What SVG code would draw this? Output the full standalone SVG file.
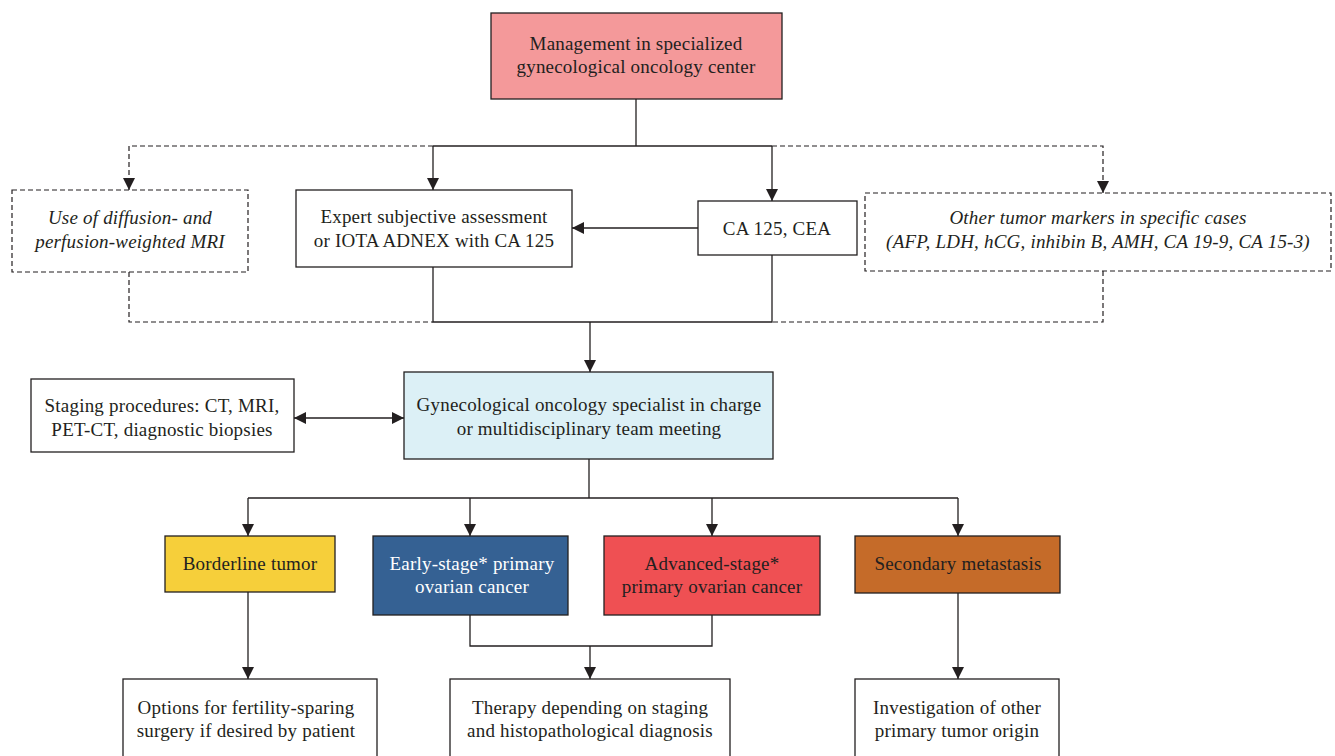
<svg xmlns="http://www.w3.org/2000/svg" width="1335" height="756" viewBox="0 0 1335 756">
<defs>
<marker id="ah" viewBox="0 0 10 10" refX="10" refY="5" markerWidth="12" markerHeight="12" markerUnits="userSpaceOnUse" orient="auto-start-reverse">
<path d="M0,0 L10,5 L0,10 z" fill="#231f20"/>
</marker>
<style>
.box{stroke:#231f20;stroke-width:1.3;}
.dbox{fill:#fff;stroke:#231f20;stroke-width:1.2;stroke-dasharray:5,3;}
.ln{fill:none;stroke:#231f20;stroke-width:1.3;}
.dl{fill:none;stroke:#231f20;stroke-width:1.2;stroke-dasharray:5,3;}
text{font-family:"Liberation Serif","Times New Roman",serif;font-size:19px;letter-spacing:0.2px;fill:#231f20;text-anchor:middle;}
.it{font-style:italic;}
.wt{fill:#ffffff;}
</style>
</defs>
<rect width="1335" height="756" fill="#ffffff"/>
<g id="connectors">
<line class="ln" x1="636" y1="99" x2="636" y2="146"/>
<line class="ln" x1="433" y1="146" x2="772" y2="146"/>
<line class="ln" x1="433" y1="146" x2="433" y2="190" marker-end="url(#ah)"/>
<line class="ln" x1="772" y1="146" x2="772" y2="201" marker-end="url(#ah)"/>
<polyline class="dl" points="433,146 129,146 129,190" marker-end="url(#ah)"/>
<polyline class="dl" points="772,146 1103,146 1103,193" marker-end="url(#ah)"/>
<line class="ln" x1="698" y1="228" x2="572" y2="228" marker-end="url(#ah)"/>
<polyline class="ln" points="433,267 433,322 772,322 772,255"/>
<polyline class="dl" points="129,272 129,322 433,322"/>
<polyline class="dl" points="1103,271 1103,322 772,322"/>
<line class="ln" x1="590" y1="322" x2="590" y2="372" marker-end="url(#ah)"/>
<line class="ln" x1="294" y1="418" x2="404" y2="418" marker-start="url(#ah)" marker-end="url(#ah)"/>
<line class="ln" x1="589" y1="459" x2="589" y2="498"/>
<line class="ln" x1="248" y1="498" x2="958" y2="498"/>
<line class="ln" x1="248" y1="498" x2="248" y2="536" marker-end="url(#ah)"/>
<line class="ln" x1="470" y1="498" x2="470" y2="536" marker-end="url(#ah)"/>
<line class="ln" x1="712" y1="498" x2="712" y2="536" marker-end="url(#ah)"/>
<line class="ln" x1="958" y1="498" x2="958" y2="536" marker-end="url(#ah)"/>
<line class="ln" x1="248" y1="592" x2="248" y2="679" marker-end="url(#ah)"/>
<polyline class="ln" points="470,615 470,646 712,646 712,615"/>
<line class="ln" x1="590" y1="646" x2="590" y2="679" marker-end="url(#ah)"/>
<line class="ln" x1="958" y1="593" x2="958" y2="679" marker-end="url(#ah)"/>
</g>
<g id="management">
<rect class="box" x="491" y="13" width="291" height="86" fill="#f4999a"/>
<text x="636" y="50">Management in specialized</text>
<text x="636" y="73">gynecological oncology center</text>
</g>
<g id="mri">
<rect class="dbox" x="12" y="190" width="236" height="82"/>
<text class="it" x="130" y="224">Use of diffusion- and</text>
<text class="it" x="130" y="248">perfusion-weighted MRI</text>
</g>
<g id="expert">
<rect class="box" x="296" y="190" width="276" height="77" fill="#ffffff"/>
<text x="434" y="223">Expert subjective assessment</text>
<text x="434" y="247">or IOTA ADNEX with CA 125</text>
</g>
<g id="ca125">
<rect class="box" x="698" y="201" width="159" height="54" fill="#ffffff"/>
<text x="777" y="235">CA 125, CEA</text>
</g>
<g id="othermarkers">
<rect class="dbox" x="865" y="193" width="466" height="78"/>
<text class="it" x="1098" y="224">Other tumor markers in specific cases</text>
<text class="it" x="1098" y="248">(AFP, LDH, hCG, inhibin B, AMH, CA 19-9, CA 15-3)</text>
</g>
<g id="staging">
<rect class="box" x="31" y="379" width="263" height="73" fill="#ffffff"/>
<text x="162" y="412">Staging procedures: CT, MRI,</text>
<text x="162" y="436">PET-CT, diagnostic biopsies</text>
</g>
<g id="specialist">
<rect class="box" x="404" y="372" width="369" height="87" fill="#dcf0f6"/>
<text x="589" y="411">Gynecological oncology specialist in charge</text>
<text x="589" y="435">or multidisciplinary team meeting</text>
</g>
<g id="borderline">
<rect class="box" x="165" y="536" width="170" height="56" fill="#f6cf3a"/>
<text x="250" y="570">Borderline tumor</text>
</g>
<g id="early">
<rect class="box" x="373" y="536" width="195" height="79" fill="#356193"/>
<text class="wt" x="472" y="570">Early-stage* primary</text>
<text class="wt" x="472" y="593">ovarian cancer</text>
</g>
<g id="advanced">
<rect class="box" x="604" y="536" width="216" height="79" fill="#ef5053"/>
<text x="712" y="570">Advanced-stage*</text>
<text x="712" y="593">primary ovarian cancer</text>
</g>
<g id="secondary">
<rect class="box" x="855" y="536" width="205" height="57" fill="#c56b29"/>
<text x="958" y="570">Secondary metastasis</text>
</g>
<g id="fertility">
<rect class="box" x="123" y="679" width="254" height="90" fill="#ffffff"/>
<text x="246" y="714">Options for fertility-sparing</text>
<text x="246" y="737">surgery if desired by patient</text>
</g>
<g id="therapy">
<rect class="box" x="450" y="679" width="280" height="90" fill="#ffffff"/>
<text x="590" y="714">Therapy depending on staging</text>
<text x="590" y="737">and histopathological diagnosis</text>
</g>
<g id="investigation">
<rect class="box" x="855" y="679" width="204" height="90" fill="#ffffff"/>
<text x="957" y="714">Investigation of other</text>
<text x="957" y="737">primary tumor origin</text>
</g>
</svg>
